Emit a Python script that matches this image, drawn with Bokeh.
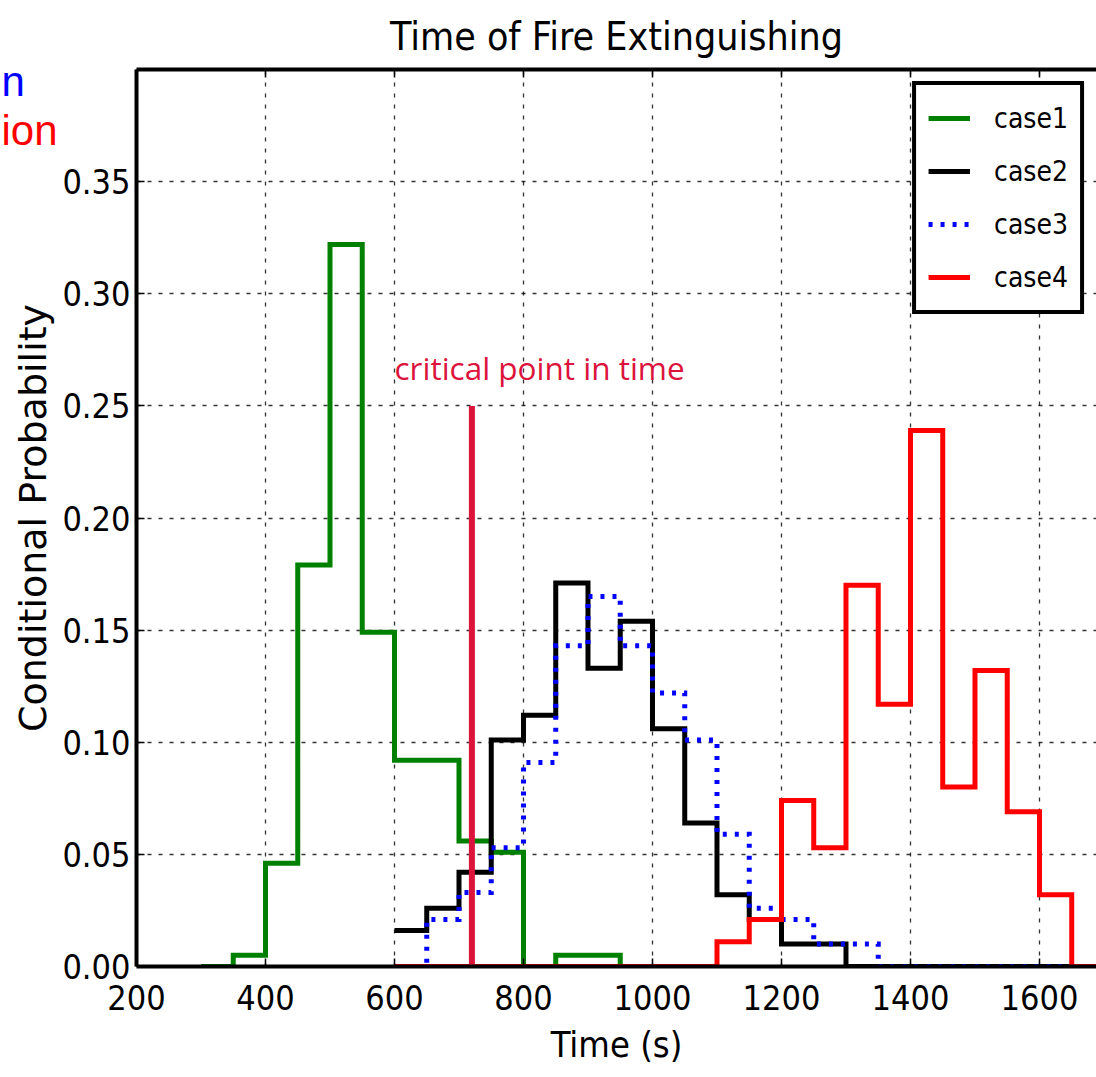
from bokeh.plotting import figure
from bokeh.models import (Label, LinearAxis, FixedTicker, PrintfTickFormatter, Range1d)
from bokeh.embed import file_html
from bokeh.resources import INLINE

# ---------------- data ----------------
bin_width = 50

case1_start = 300
case1_prob = [0.0, 0.005, 0.046, 0.179, 0.322, 0.149, 0.092, 0.092, 0.056, 0.051,
              0.0, 0.005, 0.005]

case2_start = 600
case2_prob = [0.016, 0.026, 0.042, 0.101, 0.112, 0.171, 0.133, 0.154, 0.106, 0.064,
              0.032, 0.021, 0.010, 0.010,
              0.0, 0.0, 0.0, 0.0, 0.0, 0.0, 0.0, 0.0]

case3_start = 600
case3_prob = [0.0, 0.021, 0.033, 0.053, 0.091, 0.143, 0.165, 0.143, 0.122, 0.101,
              0.059, 0.026, 0.021, 0.010, 0.010,
              0.0, 0.0, 0.0, 0.0, 0.0, 0.0]

case4_start = 600
case4_prob = [0.0, 0.0, 0.0, 0.0, 0.0, 0.0, 0.0, 0.0, 0.0, 0.0,
              0.011, 0.021, 0.074, 0.053, 0.170, 0.117, 0.239, 0.080, 0.132, 0.069,
              0.032, 0.0]

case_names = ["case1", "case2", "case3", "case4"]
case_colors = ["green", "black", "blue", "red"]
case_dashes = ["solid", "solid", "4 8", "solid"]

critical_time = 720
critical_height = 0.25
critical_text = "critical point in time"
critical_text_x = 600
critical_text_y = 0.267

title_text = "Time of Fire Extinguishing"
x_label = "Time (s)"
y_label = "Conditional Probability"
x_ticks = [200, 400, 600, 800, 1000, 1200, 1400, 1600]
y_ticks = [0.0, 0.05, 0.10, 0.15, 0.20, 0.25, 0.30, 0.35]

edge_texts = ["n", "ion"]
edge_colors = ["blue", "red"]

COND = "DejaVu Sans Condensed"
W, H = 1096, 1077

p = figure(width=W, height=H,
           x_range=Range1d(200, 1688.4), y_range=Range1d(0, 0.4),
           output_backend="svg", toolbar_location=None,
           min_border=0, min_border_left=136, min_border_right=0,
           min_border_top=68, min_border_bottom=111,
           title=title_text, x_axis_label=x_label, y_axis_label=y_label,
           background_fill_color="white", border_fill_color="white")
p.border_fill_alpha = 0
p.outline_line_color = None

p.title.align = "center"
p.title.text_font = COND
p.title.text_font_size = "39px"
p.title.text_font_style = "normal"
p.title.text_color = "black"
p.title.text_line_height = 0.85
p.title.standoff = 22

bottom_axis = p.below[0]
left_axis = p.left[0]
top_axis = LinearAxis()
p.add_layout(top_axis, "above")

bottom_axis.ticker = FixedTicker(ticks=x_ticks)
top_axis.ticker = FixedTicker(ticks=x_ticks)
left_axis.ticker = FixedTicker(ticks=y_ticks)
left_axis.formatter = PrintfTickFormatter(format="%.2f")

for ax in [bottom_axis, left_axis, top_axis]:
    ax.axis_line_width = 4
    ax.axis_line_color = "black"
    ax.major_tick_in = 8
    ax.major_tick_out = 0
    ax.major_tick_line_width = 1.5
    ax.major_tick_line_color = "black"
    ax.minor_tick_in = 0
    ax.minor_tick_out = 0
    ax.major_label_text_font = COND
    ax.major_label_text_color = "black"
    ax.major_label_text_font_size = "34px"
    ax.axis_label_text_font_style = "normal"
    ax.axis_label_text_color = "black"

top_axis.major_label_text_font_size = "0px"
top_axis.major_label_text_color = None
top_axis.major_label_standoff = 0

bottom_axis.major_label_standoff = 18
left_axis.major_label_standoff = 6
bottom_axis.axis_label_text_font = COND
bottom_axis.axis_label_text_font_size = "36px"
bottom_axis.axis_label_standoff = 11
left_axis.axis_label_text_font = "DejaVu Sans"
left_axis.axis_label_text_font_size = "38px"
left_axis.axis_label_standoff = 4

p.grid.grid_line_color = "black"
p.grid.grid_line_alpha = 0.8
p.grid.grid_line_dash = "4 7"
p.grid.grid_line_width = 1.3

# step histograms
series = [(case1_start, case1_prob), (case2_start, case2_prob),
          (case3_start, case3_prob), (case4_start, case4_prob)]
for (start, prob), name, color, dash in zip(series, case_names, case_colors, case_dashes):
    edges = [start + bin_width * i for i in range(len(prob) + 1)]
    ys = list(prob) + [0.0]
    p.step(edges, ys, mode="after", line_color=color, line_width=5,
           line_dash=dash, line_join="miter", line_cap="butt", legend_label=name)

# critical point in time
p.segment(x0=[critical_time], y0=[0], x1=[critical_time], y1=[critical_height],
          line_color="crimson", line_width=6)
p.add_layout(Label(x=critical_text_x, y=critical_text_y, text=critical_text,
                   text_color="crimson", text_font="Open Sans", text_font_size="31.5px",
                   text_baseline="alphabetic"))

# legend
lg = p.legend[0]
lg.location = "top_right"
lg.margin = 12
lg.padding = 12
lg.spacing = 11
lg.glyph_width = 42
lg.glyph_height = 42
lg.label_height = 42
lg.label_standoff = 24
lg.label_text_font = COND
lg.label_text_font_size = "28px"
lg.label_text_color = "black"
lg.border_line_color = "black"
lg.border_line_alpha = 1.0
lg.border_line_width = 4
lg.background_fill_color = "white"
lg.background_fill_alpha = 1.0

# small transparent overlay (separate root) holding the cut-off texts at the left edge
QW, QH = 80, 200
q = figure(width=QW, height=QH, x_range=Range1d(0, QW), y_range=Range1d(0, QH),
           x_axis_type=None, y_axis_type=None, output_backend="svg",
           toolbar_location=None, min_border=0, outline_line_color=None,
           background_fill_alpha=0, border_fill_alpha=0)
q.grid.visible = False
for txt, col, yb in zip(edge_texts, edge_colors, [QH - 81, QH - 130]):
    q.add_layout(Label(x=1, y=yb, x_units="screen", y_units="screen", text=txt,
                       text_color=col, text_font="Liberation Sans", text_font_size="42px",
                       text_baseline="alphabetic"))
q.styles = {"position": "absolute", "left": "0px", "top": "0px", "z-index": "5"}

open("out.html", "w").write(file_html([p, q], INLINE))
